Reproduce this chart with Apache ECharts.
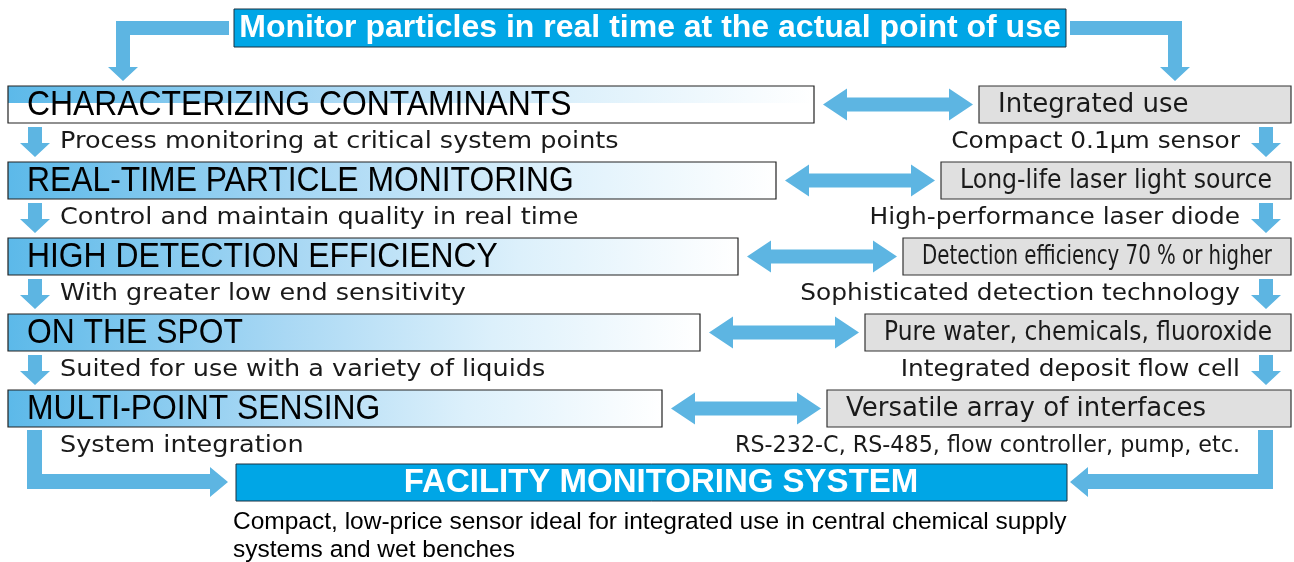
<!DOCTYPE html>
<html>
<head>
<meta charset="utf-8">
<script src="https://cdn.jsdelivr.net/npm/echarts@6/dist/echarts.min.js"></script>
<style>
  html, body { margin: 0; padding: 0; background: #fff; }
  #main { width: 1294px; height: 562px; }
</style>
</head>
<body>
<div id="main"></div>
<script>
// diagram texts
var headline = 'Monitor particles in real time at the actual point of use';
var features = ['CHARACTERIZING CONTAMINANTS', 'REAL-TIME PARTICLE MONITORING', 'HIGH DETECTION EFFICIENCY', 'ON THE SPOT', 'MULTI-POINT SENSING'];
var featureNotes = ['Process monitoring at critical system points', 'Control and maintain quality in real time', 'With greater low end sensitivity', 'Suited for use with a variety of liquids', 'System integration'];
var benefits = ['Integrated use', 'Long-life laser light source', 'Detection efficiency 70 % or higher', 'Pure water, chemicals, fluoroxide', 'Versatile array of interfaces'];
var benefitNotes = ['Compact 0.1\u03bcm sensor', 'High-performance laser diode', 'Sophisticated detection technology', 'Integrated deposit flow cell', 'RS-232-C, RS-485, flow controller, pump, etc.'];
var systemName = 'FACILITY MONITORING SYSTEM';
var footnote = ['Compact, low-price sensor ideal for integrated use in central chemical supply', 'systems and wet benches'];

// layout
var ARROW = '#5db5e2';
var BLUE = '#00a6e6';
var ROW_TOP = 86, ROW_STEP = 76, ROW_H = 37;
var LEFT_X = 8, LEFT_END0 = 814, RIGHT_X0 = 979, RIGHT_END = 1291, SHIFT = 38;
var NOTE_MAX = 505;
var SANS = '"Liberation Sans", Arial, sans-serif';
var GOTHIC = '"DejaVu Sans", sans-serif';

var measureCtx = document.createElement('canvas').getContext('2d');
function textWidth(str, size) {
    measureCtx.font = size + 'px "DejaVu Sans"';
    return measureCtx.measureText(str).width;
}
// widen by default, squeeze when it would not fit
function fitScale(str, size, wanted, max) {
    var w = textWidth(str, size) * wanted;
    return w > max ? wanted * max / w : wanted;
}

function rect(api, x1, y1, x2, y2, style) {
    var a = api.coord([x1, y1]), b = api.coord([x2, y2]);
    return { type: 'rect', shape: { x: a[0], y: a[1], width: b[0] - a[0], height: b[1] - a[1] }, style: style };
}
function poly(api, pts) {
    return { type: 'polygon', shape: { points: pts.map(function (p) { return api.coord(p); }) }, style: { fill: ARROW } };
}
function txt(api, str, x, y, o) {
    var p = api.coord([x, y]);
    return {
        type: 'text', x: p[0], y: p[1], scaleX: o.scaleX || 1,
        style: {
            text: str, x: 0, y: 0, fill: o.color || '#1a1a1a',
            fontSize: o.size, fontFamily: o.family, fontWeight: o.weight || 'normal',
            align: o.align || 'left', verticalAlign: 'middle'
        }
    };
}
function downArrow(api, cx, y0, y1) {
    return poly(api, [[cx - 7, y0], [cx + 7, y0], [cx + 7, y1 - 14], [cx + 15, y1 - 14], [cx, y1], [cx - 15, y1 - 14], [cx - 7, y1 - 14]]);
}
function doubleArrow(api, xa, xb, cy) {
    return poly(api, [[xa, cy], [xa + 24, cy - 16], [xa + 24, cy - 7], [xb - 24, cy - 7], [xb - 24, cy - 16], [xb, cy],
        [xb - 24, cy + 16], [xb - 24, cy + 7], [xa + 24, cy + 7], [xa + 24, cy + 16]]);
}

function renderRow(params, api) {
    var i = params.dataIndex;
    var top = ROW_TOP + ROW_STEP * i, bottom = top + ROW_H, mid = top + ROW_H / 2;
    var lEnd = LEFT_END0 - SHIFT * i, rStart = RIGHT_X0 - SHIFT * i;
    var grad = new echarts.graphic.LinearGradient(0, 0, 1, 0, [
        { offset: 0, color: '#5cb9e9' }, { offset: 0.4, color: '#a9d8f4' },
        { offset: 0.7, color: '#dcf0fb' }, { offset: 1, color: '#ffffff' }
    ]);
    var kids = [
        rect(api, LEFT_X, top, lEnd, bottom, { fill: '#fff' }),
        rect(api, LEFT_X, top, lEnd, i === 0 ? top + 17 : bottom, { fill: grad }),
        rect(api, LEFT_X, top, lEnd, bottom, { fill: 'none', stroke: '#222', lineWidth: 1.2 }),
        txt(api, features[i], 27, mid + 1, { size: 35, family: SANS, color: '#000', scaleX: 0.91 }),
        doubleArrow(api, lEnd + 9, rStart - 6, mid),
        rect(api, rStart, top, RIGHT_END, bottom, { fill: '#e0e0e0', stroke: '#333', lineWidth: 1.2 })
    ];
    var avail = RIGHT_END - rStart - 38;
    kids.push(txt(api, benefits[i], rStart + 19, mid + 1, { size: 26, family: GOTHIC, scaleX: fitScale(benefits[i], 26, 1, avail) }));
    var noteY = bottom + 19;
    kids.push(txt(api, featureNotes[i], 60, noteY, { size: 23, family: GOTHIC, scaleX: 1.11 }));
    kids.push(txt(api, benefitNotes[i], 1240, noteY, { size: 23, family: GOTHIC, align: 'right', scaleX: fitScale(benefitNotes[i], 23, 1.08, NOTE_MAX) }));
    if (i < features.length - 1) {
        kids.push(downArrow(api, 35, bottom + 4, bottom + ROW_STEP - ROW_H - 5));
        kids.push(downArrow(api, 1266, bottom + 4, bottom + ROW_STEP - ROW_H - 5));
    }
    return { type: 'group', children: kids };
}

function renderFrame(params, api) {
    var kids = [
        rect(api, 234, 9, 1066, 47, { fill: BLUE, stroke: '#1b3140', lineWidth: 1 }),
        txt(api, headline, 650, 28, { size: 32, family: SANS, weight: 'bold', color: '#fff', align: 'center' }),
        poly(api, [[229, 21], [116, 21], [116, 67], [108, 67], [123, 81], [138, 67], [130, 67], [130, 35], [229, 35]]),
        poly(api, [[1070, 21], [1182, 21], [1182, 67], [1190, 67], [1175, 81], [1160, 67], [1168, 67], [1168, 35], [1070, 35]]),
        rect(api, 236, 464, 1067, 501, { fill: BLUE, stroke: '#1b3140', lineWidth: 1 }),
        txt(api, systemName, 661, 483, { size: 33, family: SANS, weight: 'bold', color: '#fff', align: 'center' }),
        poly(api, [[27, 430], [42, 430], [42, 474], [210, 474], [210, 467], [228, 482], [210, 497], [210, 489], [27, 489]]),
        poly(api, [[1273, 430], [1258, 430], [1258, 474], [1088, 474], [1088, 467], [1070, 482], [1088, 497], [1088, 489], [1273, 489]])
    ];
    footnote.forEach(function (line, k) {
        kids.push(txt(api, line, 233, 522 + 28 * k, { size: 24.5, family: SANS, color: '#000' }));
    });
    return { type: 'group', children: kids };
}

var myChart = echarts.init(document.getElementById('main'));
var option = {
    animation: false,
    grid: { left: 0, right: 0, top: 0, bottom: 0 },
    xAxis: { type: 'value', min: 0, max: 1294, show: false },
    yAxis: { type: 'value', min: 0, max: 562, inverse: true, show: false },
    series: [
        {
            type: 'custom', name: 'frame', silent: true,
            renderItem: renderFrame,
            data: [[0, 0]]
        },
        {
            type: 'custom', name: 'rows', silent: true,
            renderItem: renderRow,
            data: features.map(function (f, i) { return [i, 0]; })
        }
    ]
};
myChart.setOption(option);
</script>
</body>
</html>
